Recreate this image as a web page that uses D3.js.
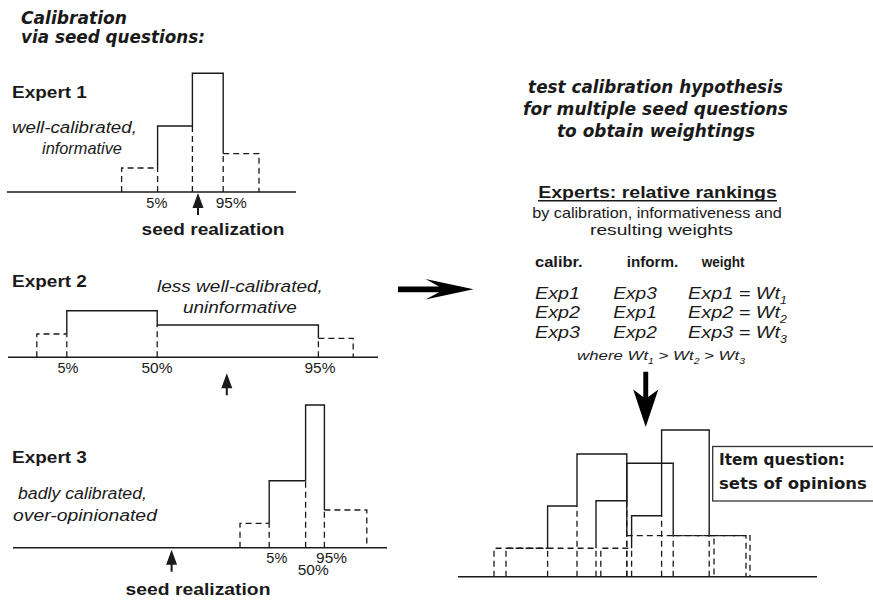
<!DOCTYPE html>
<html><head><meta charset="utf-8">
<script src="https://cdn.jsdelivr.net/npm/d3@7"></script>
<style>body{margin:0;background:#fff;overflow:hidden}</style>
</head><body><svg id="c" width="873" height="601"></svg>
<script>
// ---------- DATA ----------
// bin edges (x units 0-100): left tail start, 5%, 50%, 95%, right tail end
const exp1Edges   = [30.4, 39.4, 48.1, 55.8, 64.75];
const exp1Heights = [20, 55, 99, 32];
const exp2Edges   = [9.2, 16.7, 39.3, 79.6, 88.3];
const exp2Heights = [19.4, 38.8, 26.9, 15.8];
const exp3Edges   = [60, 67.3, 76.4, 81.1, 91.7];
const exp3Heights = [20.3, 55.8, 118.9, 31.4];
const seedRealization = [49.5, 56.7, 42.9];
const exp1Labels = [{t:"5%", at:39.2, row:0}, {t:"95%", at:57.8, row:0}];
const exp2Labels = [{t:"5%", at:17, row:0}, {t:"50%", at:39.25, row:0}, {t:"95%", at:80, row:0}];
const exp3Labels = [{t:"5%", at:69.2, row:0}, {t:"95%", at:82.9, row:0}, {t:"50%", at:78.3, row:1}];
const expertNames = ["Expert 1", "Expert 2", "Expert 3"];
// item question: sets of opinions
const itemAEdges   = [13.5, 26.9, 34.25, 46.7, 68.5];
const itemAHeights = [23.7, 58.9, 102.2, 34.2];
const itemBEdges   = [16.5, 39, 46.7, 58.3, 76.5];
const itemBHeights = [23.7, 63.3, 94.5, 34.2];
const itemCEdges   = [40.2, 47.9, 55.4, 67.3, 77.5];
const itemCHeights = [23.7, 50.8, 122.2, 34.2];
const rankHeaders = ["calibr.", "inform.", "weight"];
const rankCalib = ["Exp1", "Exp2", "Exp3"];
const rankInform = ["Exp3", "Exp1", "Exp2"];
const rankWeight = ["Exp1", "Exp2", "Exp3"];

// ---------- SETUP ----------
const svg = d3.select("#c");
const ink = "#1a1a1a";
const xLeft = d3.scaleLinear().domain([0, 100]).range([0, 400]);
const xRight = d3.scaleLinear().domain([0, 100]).range([440, 840]);
const yH = d3.scaleLinear().domain([0, 100]).range([0, 120]);
const ARIAL = "'Liberation Sans', Arial, sans-serif";
const HUMAN = "'DejaVu Sans', Verdana, sans-serif";

function txt(x, y, s, o) {
  const t = svg.append("text")
    .attr("text-anchor", o.anchor || "start")
    .style("font-family", o.family || ARIAL)
    .style("font-size", (o.size || 14) + "px")
    .style("font-weight", o.bold ? "bold" : "normal")
    .style("font-style", o.italic ? "italic" : "normal")
    .attr("fill", ink);
  if (Array.isArray(s)) {
    s.forEach(p => {
      const ts = t.append("tspan").text(p.t);
      if (p.sub) ts.style("font-size", (o.size * 0.62) + "px").attr("dy", o.size * 0.3);
      else if (p.up) ts.attr("dy", -o.size * 0.3);
    });
  } else t.text(s);
  t.attr("transform", `translate(${x},${y})`);
  if (o.w) {
    const L = t.node().getComputedTextLength();
    t.attr("transform", `translate(${x},${y}) scale(${o.w / L},1)`);
  }
  return t;
}

function drawHist(edges, heights, xs, base) {
  const X = edges.map(xs);
  const Y = heights.map(h => base - yH(h));
  const m = (a, b) => base - yH(Math.min(a, b));
  const dashed = `M${X[0]},${base}V${Y[0]}H${X[1]}` +
    `M${X[1]},${base}V${m(heights[0], heights[1])}` +
    `M${X[2]},${base}V${m(heights[1], heights[2])}` +
    `M${X[3]},${base}V${m(heights[2], heights[3])}` +
    `M${X[3]},${Y[3]}H${X[4]}V${base}`;
  const solid = `M${X[1]},${m(heights[0], heights[1])}V${Y[1]}H${X[2]}V${Y[2]}H${X[3]}V${m(heights[2], heights[3])}`;
  svg.append("path").attr("d", dashed).attr("fill", "none").attr("stroke", ink)
    .attr("stroke-width", 1.3).attr("stroke-dasharray", "6,4");
  svg.append("path").attr("d", solid).attr("fill", "none").attr("stroke", ink)
    .attr("stroke-width", 1.4);
}

function baseline(x0, x1, y, xs) {
  svg.append("line").attr("x1", xs(x0)).attr("x2", xs(x1)).attr("y1", y).attr("y2", y)
    .attr("stroke", ink).attr("stroke-width", 1.4);
}

function upArrow(x, tip, len) {
  const hw = 5.5, hh = 15;
  svg.append("path").attr("fill", ink)
    .attr("d", `M${x},${tip}L${x + hw},${tip + hh}L${x + 1},${tip + hh}L${x + 1},${tip + len}L${x - 1},${tip + len}L${x - 1},${tip + hh}L${x - hw},${tip + hh}Z`);
}

// ---------- LEFT PANELS ----------
const panels = [
  {edges: exp1Edges, heights: exp1Heights, labels: exp1Labels, base: 192, line: [1.75, 74], arrowDy: 1, arrowLen: 22, nameY: 98,
   notes: [{t:"well-calibrated,", x:12, y:133, w:125}, {t:"informative", x:42, y:154, w:80}],
   seedLabel: {x: 213, y: 235, w: 143}},
  {edges: exp2Edges, heights: exp2Heights, labels: exp2Labels, base: 357.3, line: [2, 94.5], arrowDy: 16, arrowLen: 22, nameY: 287,
   notes: [{t:"less well-calibrated,", x:157, y:292, w:166}, {t:"uninformative", x:183, y:313, w:114}]},
  {edges: exp3Edges, heights: exp3Heights, labels: exp3Labels, base: 547.7, line: [3.25, 96.75], arrowDy: 2, arrowLen: 22, nameY: 463,
   notes: [{t:"badly calibrated,", x:18, y:499, w:129}, {t:"over-opinionated", x:13, y:521, w:144}],
   seedLabel: {x: 198, y: 595, w: 145}}
];

panels.forEach((p, i) => {
  drawHist(p.edges, p.heights, xLeft, p.base);
  baseline(p.line[0], p.line[1], p.base, xLeft);
  upArrow(xLeft(seedRealization[i]), p.base + p.arrowDy, p.arrowLen);
  p.labels.forEach(l => {
    txt(xLeft(l.at), p.base + 15.7 + l.row * 12, l.t, {size: 14, anchor: "middle", w: l.t.length === 2 ? 21 : 31});
  });
  txt(12, p.nameY, expertNames[i], {size: 17, bold: true, w: 75});
  p.notes.forEach(n => txt(n.x, n.y, n.t, {size: 16.5, italic: true, w: n.w}));
  if (p.seedLabel) txt(p.seedLabel.x, p.seedLabel.y, "seed realization", {size: 17, bold: true, anchor: "middle", w: p.seedLabel.w});
});

// title
txt(21, 24, "Calibration", {family: HUMAN, size: 17, bold: true, italic: true, w: 106});
txt(21, 43, "via seed questions:", {family: HUMAN, size: 17, bold: true, italic: true, w: 184});

// ---------- RIGHT SIDE ----------
txt(655.5, 93, "test calibration hypothesis", {family: HUMAN, size: 17.5, bold: true, italic: true, anchor: "middle", w: 255});
txt(655.5, 115, "for multiple seed questions", {family: HUMAN, size: 17.5, bold: true, italic: true, anchor: "middle", w: 265});
txt(656, 137, "to obtain weightings", {family: HUMAN, size: 17.5, bold: true, italic: true, anchor: "middle", w: 198});

txt(657.5, 198, "Experts: relative rankings", {size: 17, bold: true, anchor: "middle", w: 239});
svg.append("line").attr("x1", 538).attr("x2", 777).attr("y1", 200.7).attr("y2", 200.7).attr("stroke", ink).attr("stroke-width", 1.5);
txt(657, 218, "by calibration, informativeness and", {size: 14.5, anchor: "middle", w: 250});
txt(661.5, 235, "resulting weights", {size: 14.5, anchor: "middle", w: 143});

const colX = [535, 613.3, 688];
const hdrX = [535, 626.7, 701.7];
const hdrW = [47.7, 51.7, 43];
rankHeaders.forEach((h, i) => txt(hdrX[i], 266.7, h, {size: 15.5, bold: true, w: hdrW[i]}));
const rowY = [298.5, 318, 337.5];
rankCalib.forEach((e, i) => txt(colX[0], rowY[i], e, {size: 17, italic: true, w: 45}));
rankInform.forEach((e, i) => txt(colX[1], rowY[i], e, {size: 17, italic: true, w: 43.5}));
rankWeight.forEach((e, i) => txt(colX[2], rowY[i], [{t: e + " = Wt"}, {t: String(i + 1), sub: true}], {size: 17, italic: true, w: 99}));
txt(661, 360, [{t: "where Wt"}, {t: "1", sub: true}, {t: " > Wt", up: true}, {t: "2", sub: true}, {t: "  > Wt", up: true}, {t: "3", sub: true}],
  {size: 13.5, italic: true, anchor: "middle", w: 168});

// big right arrow
svg.append("path").attr("fill", "#000")
  .attr("d", "M398,286.6L439,286.6L425.5,279L473.5,289.3L425.5,299.6L439,292.2L398,292.2Z");
// down arrow
svg.append("path").attr("fill", "#000")
  .attr("d", "M643.3,371.7L648.2,371.7L648.2,397L658.3,389.5L645.7,427L633.2,389.5L643.3,397Z");

// item question histograms
const itemBase = 576.7;
drawHist(itemAEdges, itemAHeights, xRight, itemBase);
drawHist(itemBEdges, itemBHeights, xRight, itemBase);
drawHist(itemCEdges, itemCHeights, xRight, itemBase);
baseline(4.5, 94.25, itemBase, xRight);

svg.append("rect").attr("x", 712.7).attr("y", 446.5).attr("width", 200).attr("height", 54.5)
  .attr("fill", "#fff").attr("stroke", "#333").attr("stroke-width", 1.3);
txt(719, 465, "Item question:", {family: HUMAN, size: 16, bold: true, w: 126});
txt(719, 489, "sets of opinions", {family: HUMAN, size: 16, bold: true, w: 148});
</script>
</body></html>
